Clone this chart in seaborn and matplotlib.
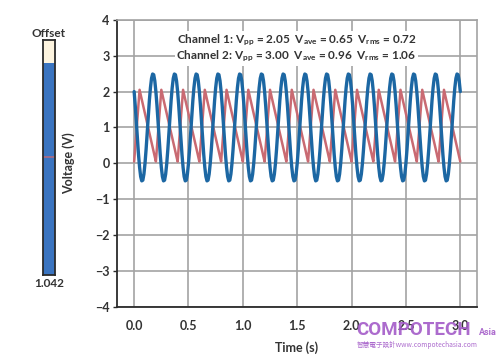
import numpy as np
import pandas as pd
import seaborn as sns
import matplotlib.pyplot as plt

# waveform data, one period each (10 ms steps, 5 Hz)
period_s = 0.2
n_periods = 15
ch1_cycle = [0.05, 0.45, 0.85, 1.25, 1.65, 2.05, 1.91, 1.78, 1.65, 1.51,
             1.38, 1.25, 1.11, 0.98, 0.85, 0.71, 0.58, 0.45, 0.31, 0.18]
ch2_cycle = [2.00, 1.61, 1.16, 0.69, 0.25, -0.11, -0.37, -0.49, -0.47, -0.30,
             0.00, 0.39, 0.84, 1.31, 1.75, 2.11, 2.37, 2.49, 2.47, 2.30]

channels = ["Channel 1", "Channel 2"]
vpp = [2.05, 3.00]
vave = [0.65, 0.96]
vrms = [0.72, 1.06]

offset_value = 1.042
offset_range = [-1.3, 1.3]

x_ticks = [0.0, 0.5, 1.0, 1.5, 2.0, 2.5, 3.0]
y_ticks = [-4, -3, -2, -1, 0, 1, 2, 3, 4]

# build long table for seaborn
n = len(ch1_cycle)
t = np.arange(n * n_periods + 1) * (period_s / n)
v1 = np.append(np.tile(ch1_cycle, n_periods), ch1_cycle[0])
v2 = np.append(np.tile(ch2_cycle, n_periods), ch2_cycle[0])
df = pd.DataFrame({
    "time": np.concatenate([t, t]),
    "volts": np.concatenate([v1, v2]),
    "channel": [channels[0]] * len(t) + [channels[1]] * len(t),
})

sns.set_style("white")
plt.rcParams["font.family"] = ["Lato", "DejaVu Sans"]
plt.rcParams["mathtext.fontset"] = "custom"
plt.rcParams["mathtext.rm"] = "Lato:bold"
plt.rcParams["mathtext.it"] = "Lato:bold"

txt = "#333333"
grid_c = "#a3a3a3"

fig = plt.figure(figsize=(4.98, 3.55), dpi=100)
ax = fig.add_axes([0.234, 0.136, 0.723, 0.808])

sns.lineplot(data=df, x="time", y="volts", hue="channel",
             palette={"Channel 1": "#c96a72", "Channel 2": "#1c67a3"},
             legend=False, ax=ax, estimator=None, sort=False)
ax.lines[0].set_linewidth(1.8)
ax.lines[1].set_linewidth(2.4)

ax.set_xlim(-0.162, 3.15)
ax.set_ylim(-4, 4)
ax.set_xticks(x_ticks)
ax.set_xticklabels([f"{v:.1f}" for v in x_ticks])
ax.set_yticks(y_ticks)
ax.set_yticklabels([f"{v}".replace("-", "\u2212") for v in y_ticks])
ax.grid(True, color=grid_c, linewidth=1.2)
ax.set_axisbelow(True)
for s in ["top", "right"]:
    ax.spines[s].set_color(grid_c)
    ax.spines[s].set_linewidth(1.2)
for s in ["left", "bottom"]:
    ax.spines[s].set_color("#2b2b2b")
    ax.spines[s].set_linewidth(1.3)
ax.tick_params(axis="y", left=True, length=3, width=1, color="#2b2b2b",
               labelsize=9, labelcolor=txt, pad=2)
ax.tick_params(axis="x", bottom=False, labelsize=9, labelcolor=txt, pad=6)
for lab in ax.get_xticklabels() + ax.get_yticklabels():
    lab.set_fontweight("bold")
ax.set_xlabel("Time (s)", fontsize=9, fontweight="bold", color=txt, labelpad=7)
ax.set_ylabel("Voltage (V)", fontsize=9, fontweight="bold", color=txt, labelpad=14)

lines = []
for i, ch in enumerate(channels):
    lines.append(f"{ch}: V$_{{pp}}$ = {vpp[i]:.2f}  V$_{{ave}}$ = {vave[i]:.2f}  "
                 f"V$_{{rms}}$ = {vrms[i]:.2f}")
ax.text(0.5, 0.9, "\n".join(lines), transform=ax.transAxes, ha="center",
        va="center", fontsize=8.5, fontweight="bold", color=txt, linespacing=1.1,
        bbox=dict(facecolor="white", edgecolor="none", pad=1.0))

# offset slider on the left
sax = fig.add_axes([0.0863, 0.2254, 0.024, 0.662])
sax.bar([0], [offset_range[1] - offset_range[0]], bottom=offset_range[0],
        width=1, color="#fdf4df", edgecolor="none")
sax.bar([0], [offset_value - offset_range[0]], bottom=offset_range[0],
        width=1, color="#3a74c0", edgecolor="none")
sax.plot([-0.5, 0.5], [0, 0], color="#b06a80", linewidth=1.2)
sax.set_xlim(-0.5, 0.5)
sax.set_ylim(offset_range)
sax.set_xticks([])
sax.set_yticks([])
for s in sax.spines.values():
    s.set_color("#2b2b2b")
    s.set_linewidth(1.3)
sax.set_title("Offset", fontsize=8.5, fontweight="bold", color=txt, pad=2)
sax.text(0.5, -0.012, f"{offset_value:.3f}", transform=sax.transAxes,
         ha="center", va="top", fontsize=8.5, fontweight="bold", color=txt)

# watermark
wm = "#a35bc8"
fig.text(0.716, 0.056, "COMPOTECH", fontsize=13.5, color=wm, alpha=0.9,
         family=["Roboto", "DejaVu Sans"], fontweight="bold")
fig.text(0.962, 0.056, "Asia", fontsize=6.5, color=wm, alpha=0.9,
         family=["Roboto", "DejaVu Sans"], fontweight="bold")
fig.text(0.717, 0.022, "智慧電子設計www.compotechasia.com", fontsize=4.8,
         color=wm, alpha=0.9, family=["Noto Sans CJK TC", "DejaVu Sans"])

fig.savefig("out.png", dpi=100)
